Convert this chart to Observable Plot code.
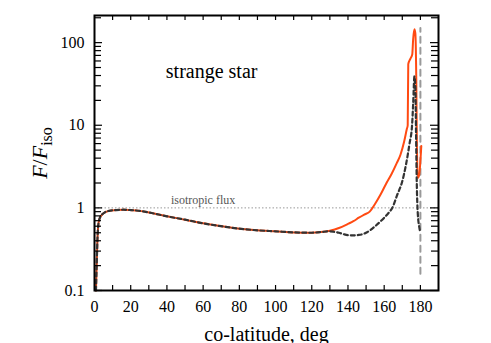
<!DOCTYPE html>
<html>
<head>
<meta charset="utf-8">
<script src="https://cdn.jsdelivr.net/npm/d3@7"></script>
<script src="https://cdn.jsdelivr.net/npm/@observablehq/plot@0.6"></script>
<style>
  html, body { margin: 0; padding: 0; background: #fff; }
  #chart svg { display: block; }
  #chart svg, #chart svg text { font-family: "Liberation Serif", "Times New Roman", serif !important; }
</style>
</head>
<body>
<div id="chart"></div>
<script>
// Strange star: solid (orange) curve
const solidX = [0.8,1.2,1.6,2.2,3,5,8,12,16,20,25,30,40,50,60,70,80,90,100,110,120,125,130,135,140,143,146,149,152,155,158,161,164,167,169,171,172.5,173,173.3,174.5,175.5,176,176.7,177.2,177.7,178,178.5,179.3,180.5];
const solidY = [0.1,0.2,0.4,0.65,0.76,0.86,0.92,0.94,0.95,0.94,0.92,0.88,0.79,0.72,0.65,0.6,0.56,0.535,0.52,0.505,0.5,0.51,0.53,0.57,0.64,0.69,0.76,0.83,0.9,1.12,1.45,1.95,2.55,3.5,4.4,6.3,9,10,55,64,72,110,145,130,40,8,2.3,2.5,5.6];
// Dashed (black) curve
const dashX = [0.8,1.2,1.6,2.2,3,5,8,12,16,20,25,30,40,50,60,70,80,90,100,110,120,125,130,132,135,138,142,146,150,155,160,163,164.5,167,170,172,174,175.4,176,176.7,177.2,177.6,178,178.5,179.4,179.8];
const dashY = [0.1,0.2,0.4,0.65,0.76,0.86,0.92,0.94,0.95,0.94,0.92,0.88,0.79,0.72,0.65,0.6,0.56,0.535,0.52,0.505,0.5,0.51,0.52,0.515,0.5,0.478,0.465,0.47,0.5,0.6,0.76,0.9,1.0,1.4,2.1,3.3,6,10,18,39,30,8,2,0.9,0.58,0.52];
// Vertical dashed line at the pole
const poleX = [180, 180];
const poleY = [0.16, 150];
// Tick values and labels
const xLabelTicks = [0,20,40,60,80,100,120,140,160,180];
const xMinorTicks = [10,20,30,40,50,60,70,80,90,100,110,120,130,140,150,160,170,180];
const yMajorTicks = [0.1,1,10,100];
const yMinorTicks = [0.2,0.3,0.4,0.5,0.6,0.7,0.8,0.9,2,3,4,5,6,7,8,9,20,30,40,50,60,70,80,90,200];
const yTickLabels = ["0.1","1","10","100"];
const isoLevel = [1];
const annotations = [
  {x: 39.4, y: 37, text: "strange star", size: 20, fill: "#000"},
  {x: 42.2, y: 1.1, text: "isotropic flux", size: 12, fill: "#555"}
];
const xAxisLabel = "co-latitude, deg";

const solid = solidX.map((x, i) => ({x, y: solidY[i]}));
const dashed = dashX.map((x, i) => ({x, y: dashY[i]}));
const pole = poleX.map((x, i) => ({x, y: poleY[i]}));

const FONT = "Liberation Serif, Times New Roman, serif";
const W = 491, H = 343, mL = 94, mR = 53, mT = 15, mB = 53;
const pw = W - mL - mR, ph = H - mT - mB;

const chart = Plot.plot({
  width: W, height: H,
  marginLeft: mL, marginRight: mR, marginTop: mT, marginBottom: mB,
  style: {fontFamily: FONT, background: "#fff"},
  x: {domain: [0, 190], label: null},
  y: {type: "log", domain: [0.1, 213], label: null},
  marks: [
    Plot.ruleY(isoLevel, {stroke: "#999", strokeWidth: 1, strokeDasharray: "1.5,2"}),
    Plot.line(pole, {x: "x", y: "y", stroke: "#999", strokeWidth: 2, strokeDasharray: "6,5"}),
    Plot.line(solid, {x: "x", y: "y", stroke: "#ff4a12", strokeWidth: 2, curve: "monotone-x"}),
    Plot.line(dashed, {x: "x", y: "y", stroke: "#333", strokeWidth: 2.2, strokeDasharray: "4,3", curve: "monotone-x"}),
    // inward ticks
    Plot.ruleX(xMinorTicks, {stroke: "#000", strokeWidth: 1.2, insetTop: ph - 5}),
    Plot.ruleX(xMinorTicks, {stroke: "#000", strokeWidth: 1.2, insetBottom: ph - 5}),
    Plot.ruleY(yMajorTicks, {stroke: "#000", strokeWidth: 1.2, insetRight: pw - 8}),
    Plot.ruleY(yMajorTicks, {stroke: "#000", strokeWidth: 1.2, insetLeft: pw - 8}),
    Plot.ruleY(yMinorTicks.filter(v => v < 213), {stroke: "#000", strokeWidth: 1.2, insetRight: pw - 7}),
    Plot.ruleY(yMinorTicks.filter(v => v < 213), {stroke: "#000", strokeWidth: 1.2, insetLeft: pw - 7}),
    Plot.axisX({ticks: xLabelTicks, tickSize: 0, tickPadding: 10, fontSize: 16, fontFamily: FONT, label: null, tickFormat: d => String(d)}),
    Plot.axisY({ticks: yMajorTicks, tickSize: 0, tickPadding: 10, fontSize: 16, fontFamily: FONT, label: null, tickFormat: d => yTickLabels[yMajorTicks.indexOf(d)]}),
    Plot.text(annotations, {x: "x", y: "y", text: "text", fontSize: "size", fill: "fill", fontFamily: FONT, textAnchor: "start", lineAnchor: "bottom"}),
    Plot.text([xAxisLabel], {frameAnchor: "bottom", dy: 50, fontSize: 20, fill: "#000", fontFamily: FONT, lineAnchor: "bottom"}),
    Plot.frame({stroke: "#000", strokeWidth: 2})
  ]
});

// Y axis label with italic F and subscript "iso"
const svg = d3.select(chart);
const t = svg.append("text")
  .attr("transform", "translate(47,153) rotate(-90)")
  .attr("text-anchor", "middle")
  .attr("font-family", FONT)
  .attr("font-size", 22)
  .attr("fill", "#000");
t.append("tspan").attr("font-style", "italic").text("F");
t.append("tspan").text("/");
t.append("tspan").attr("font-style", "italic").text("F");
t.append("tspan").attr("font-size", 16).attr("dy", 5).text("iso");

document.getElementById("chart").appendChild(chart);
</script>
</body>
</html>
